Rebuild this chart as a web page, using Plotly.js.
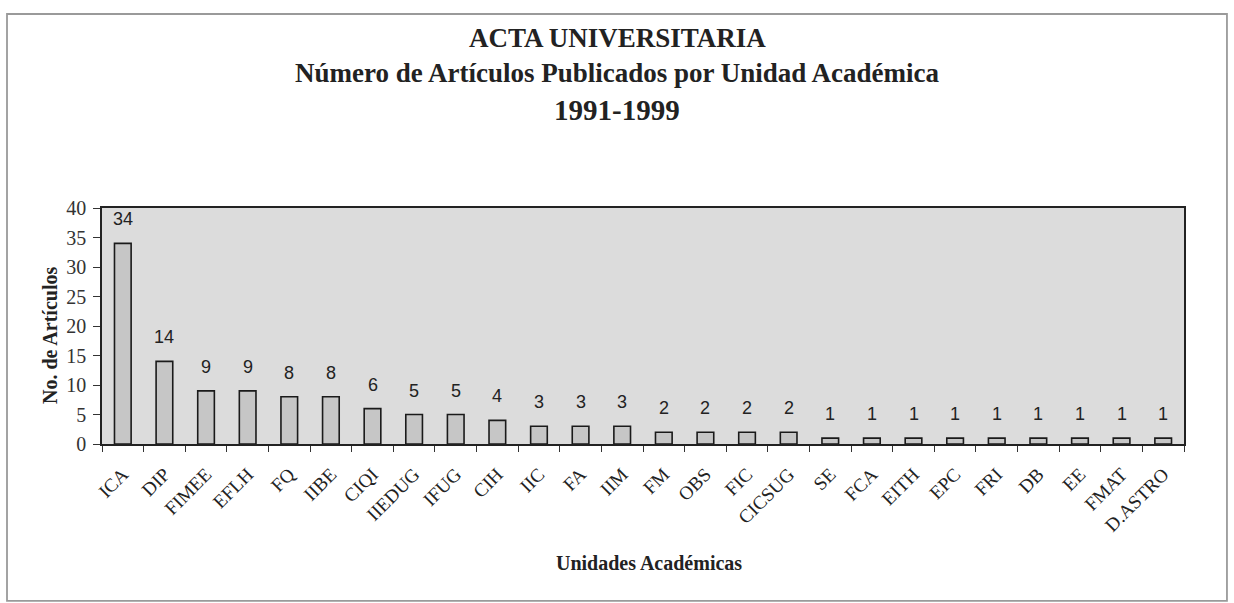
<!DOCTYPE html>
<html>
<head>
<meta charset="utf-8">
<script src="https://cdn.plot.ly/plotly-3.0.1.min.js"></script>
<style>
html,body{margin:0;padding:0;background:#fff;}
#chart{width:1234px;height:603px;}
</style>
</head>
<body>
<div id="chart"></div>
<script>
const categories = ["ICA","DIP","FIMEE","EFLH","FQ","IIBE","CIQI","IIEDUG","IFUG","CIH","IIC","FA","IIM","FM","OBS","FIC","CICSUG","SE","FCA","EITH","EPC","FRI","DB","EE","FMAT","D.ASTRO"];
const articles = [34,14,9,9,8,8,6,5,5,4,3,3,3,2,2,2,2,1,1,1,1,1,1,1,1,1];
const yTicks = [0,5,10,15,20,25,30,35,40];
const titleLines = ["ACTA UNIVERSITARIA","Número de Artículos Publicados por Unidad Académica","1991-1999"];
const xTitle = "Unidades Académicas";
const yTitle = "No. de Artículos";

const serif = "Liberation Serif, Times New Roman, serif";
const sans = "Liberation Sans, Arial, sans-serif";

const trace = {
  type: "bar",
  x: categories,
  y: articles,
  marker: {color: "#c6c6c6", line: {color: "#1a1a1a", width: 1.6}},
  width: 0.4,
  hoverinfo: "x+y"
};

// value labels above bars, built from the data arrays
const annotations = categories.map((c, i) => ({
  x: c, y: articles[i], xref: "x", yref: "y",
  text: String(articles[i]),
  showarrow: false, yanchor: "bottom", yshift: 12,
  font: {family: sans, size: 18, color: "#222"}
}));

const titleY = [1.72, 1.57, 1.415];
const titleSize = [27, 27, 29];
titleLines.forEach((t, i) => annotations.push({
  text: "<b>" + t + "</b>",
  xref: "paper", yref: "paper",
  x: 0.476, y: titleY[i],
  xanchor: "center", yanchor: "middle",
  showarrow: false,
  font: {family: serif, size: titleSize[i], color: "#222"}
}));
annotations.push({
  text: "<b>" + xTitle + "</b>",
  xref: "paper", yref: "paper",
  x: 0.506, y: -0.505,
  xanchor: "center", yanchor: "middle",
  showarrow: false,
  font: {family: serif, size: 20, color: "#222"}
});
annotations.push({
  text: "<b>" + yTitle + "</b>",
  xref: "paper", yref: "paper",
  x: -0.048, y: 0.458, textangle: -90,
  xanchor: "center", yanchor: "middle",
  showarrow: false,
  font: {family: serif, size: 20, color: "#222"}
});

const layout = {
  width: 1234, height: 603,
  margin: {l: 102, r: 50, t: 208, b: 159},
  paper_bgcolor: "#ffffff",
  plot_bgcolor: "#dcdcdc",
  showlegend: false,
  xaxis: {
    type: "category",
    tickangle: -45,
    tickfont: {family: serif, size: 19, color: "#222"},
    ticks: "outside", ticklen: 6, tickcolor: "#333",
    tickson: "boundaries",
    ticklabelstandoff: 10,
    showline: true, linecolor: "#222", linewidth: 1.8, mirror: true,
    showgrid: false, zeroline: false
  },
  yaxis: {
    range: [0, 40],
    tickvals: yTicks,
    ticktext: yTicks.map(String),
    tickfont: {family: serif, size: 20, color: "#333"},
    ticks: "outside", ticklen: 7, tickcolor: "#333",
    ticklabelstandoff: 3,
    showline: true, linecolor: "#222", linewidth: 1.8, mirror: true,
    showgrid: false, zeroline: false
  },
  annotations: annotations,
  shapes: [{
    type: "rect", xref: "paper", yref: "paper",
    x0: -0.0878, x1: 1.0397, y0: -0.665, y1: 1.822,
    line: {color: "#9a9a9a", width: 1.8}, fillcolor: "rgba(0,0,0,0)", layer: "below"
  }]
};

Plotly.newPlot("chart", [trace], layout, {displayModeBar: false, staticPlot: true});
</script>
</body>
</html>
